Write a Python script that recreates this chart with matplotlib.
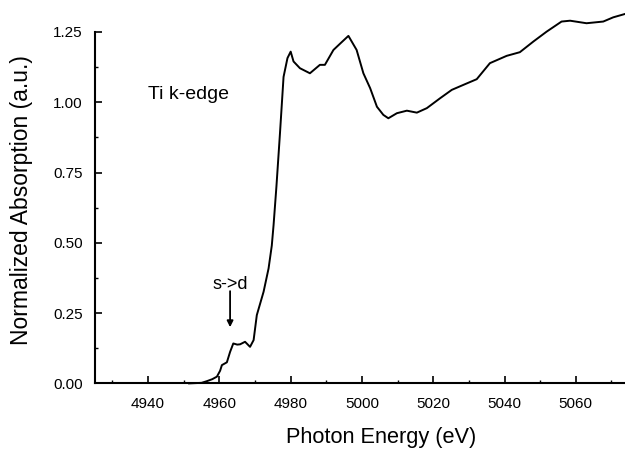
import matplotlib
matplotlib.use("Agg")
import matplotlib.pyplot as plt
from matplotlib.ticker import MultipleLocator

energy = [4951.5, 4955.0, 4956.5, 4958.0, 4959.3, 4960.2, 4960.7, 4962.1, 4963.0, 4963.9,
          4965.0, 4965.8, 4967.2, 4968.6, 4969.6, 4970.5, 4972.4, 4973.8, 4974.7, 4975.2,
          4976.0, 4977.0, 4978.0, 4979.1, 4980.0, 4980.8, 4982.6, 4985.4, 4988.2, 4989.6,
          4992.0, 4994.0, 4996.2, 4998.5, 5000.4, 5002.3, 5004.2, 5006.0, 5007.4, 5009.8,
          5012.6, 5015.4, 5018.2, 5021.9, 5025.2, 5028.5, 5032.2, 5035.9, 5040.6, 5044.3,
          5048.1, 5051.8, 5056.0, 5058.4, 5063.0, 5067.7, 5070.5, 5073.8]
absorption = [0.000, 0.002, 0.008, 0.015, 0.024, 0.045, 0.065, 0.075, 0.112, 0.142,
              0.138, 0.139, 0.148, 0.130, 0.154, 0.243, 0.326, 0.409, 0.490, 0.563,
              0.700, 0.890, 1.090, 1.157, 1.180, 1.145, 1.121, 1.103, 1.133, 1.133,
              1.186, 1.210, 1.236, 1.186, 1.103, 1.050, 0.984, 0.955, 0.943, 0.961,
              0.970, 0.963, 0.979, 1.014, 1.044, 1.062, 1.082, 1.139, 1.165, 1.178,
              1.216, 1.251, 1.287, 1.290, 1.281, 1.287, 1.302, 1.314]

x_ticks = [4940, 4960, 4980, 5000, 5020, 5040, 5060]
y_ticks = [0.00, 0.25, 0.50, 0.75, 1.00, 1.25]

plt.rcParams['font.family'] = ['Liberation Sans', 'DejaVu Sans']

fig = plt.figure(figsize=(6.25, 4.5), dpi=100)
ax = fig.add_axes([0.152, 0.148, 0.848, 0.781])
ax.plot(energy, absorption, color='black', lw=1.4, clip_on=False)

ax.set_xlim(4925.1, 5073.8)
ax.set_ylim(0, 1.25)
ax.set_xticks(x_ticks)
ax.set_yticks(y_ticks)
ax.set_yticklabels([f"{v:.2f}" for v in y_ticks])
ax.xaxis.set_minor_locator(MultipleLocator(10))
ax.yaxis.set_minor_locator(MultipleLocator(0.125))
ax.tick_params(which='major', direction='in', length=5, width=1.2, labelsize=11)
ax.tick_params(axis='x', which='major', pad=10)
ax.tick_params(axis='y', which='major', pad=9)
ax.tick_params(which='minor', direction='in', length=2.5, width=1.0)
for s in ['top', 'right']:
    ax.spines[s].set_visible(False)
for s in ['left', 'bottom']:
    ax.spines[s].set_linewidth(1.5)

fig.text(381 / 625, 1 - 437 / 450, 'Photon Energy (eV)', fontsize=15.7, ha='center', va='center')
fig.text(22 / 625, 1 - 200 / 450, 'Normalized Absorption (a.u.)', fontsize=16.5,
         ha='center', va='center', rotation=90)

ax.text(4940.0, 1.026, 'Ti k-edge', fontsize=14, ha='left', va='center')
ax.annotate('', xy=(4963.0, 0.19), xytext=(4963.0, 0.338),
            arrowprops=dict(arrowstyle='-|>', color='black', lw=1.3, mutation_scale=9))
ax.text(4963.0, 0.35, 's->d', fontsize=13, ha='center', va='center')

fig.savefig('out.png', dpi=100)
